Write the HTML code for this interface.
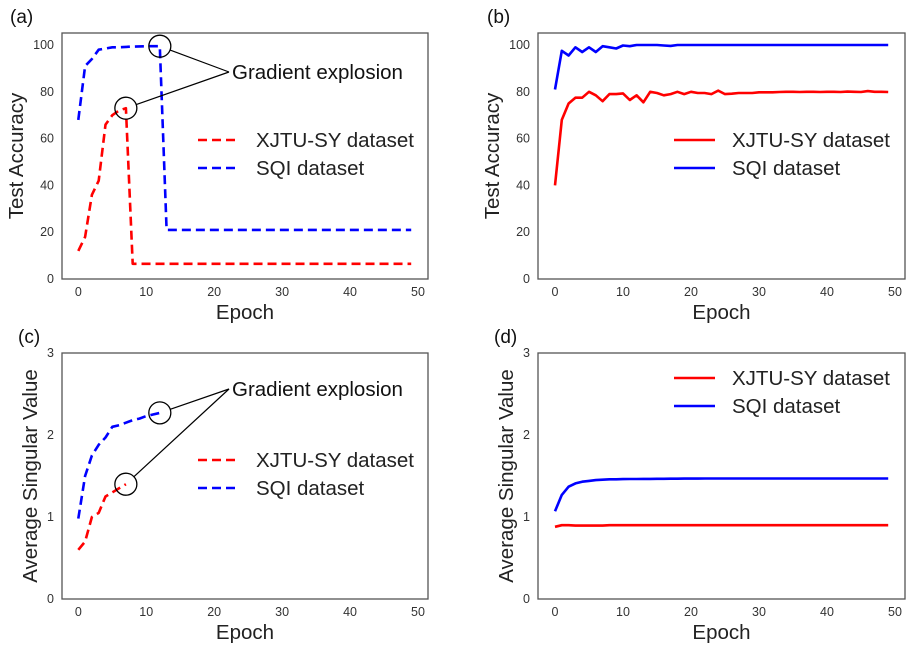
<!DOCTYPE html>
<html><head><meta charset="utf-8"><style>
html,body{margin:0;padding:0;background:#fff;}
svg{display:block;font-family:"Liberation Sans",Arial,sans-serif;}
</style></head><body>
<svg id="fig" width="918" height="648" viewBox="0 0 918 648"></svg>
<script>
const epochs=[];for(let i=0;i<50;i++)epochs.push(i);
const xTicks=[0,10,20,30,40,50];
const accTicks=[0,20,40,60,80,100];
const svTicks=[0,1,2,3];
const aRed=[12,18,36,42,66,70,72,73,6.5,6.5,6.5,6.5,6.5,6.5,6.5,6.5,6.5,6.5,6.5,6.5,6.5,6.5,6.5,6.5,6.5,6.5,6.5,6.5,6.5,6.5,6.5,6.5,6.5,6.5,6.5,6.5,6.5,6.5,6.5,6.5,6.5,6.5,6.5,6.5,6.5,6.5,6.5,6.5,6.5,6.5];
const aBlue=[68,91,94,98,98.5,99,99,99.2,99.3,99.4,99.5,99.5,99.5,21,21,21,21,21,21,21,21,21,21,21,21,21,21,21,21,21,21,21,21,21,21,21,21,21,21,21,21,21,21,21,21,21,21,21,21,21];
const bRed=[40,68,75,77.5,77.5,80,78.5,76,79,79,79.3,76.5,78.5,75.5,80,79.5,78.5,79,80,79,80,79.5,79.5,79,80.5,79,79.2,79.5,79.5,79.5,79.8,79.8,79.8,79.9,80,80,79.9,80,80,79.9,80,80,79.9,80.1,80,79.9,80.3,80,80,79.9];
const bBlue=[81,97.5,95.5,99,97,99,97,99.5,99,98.5,99.8,99.5,100,100,100,100,99.8,99.6,100,100,100,100,100,100,100,100,100,100,100,100,100,100,100,100,100,100,100,100,100,100,100,100,100,100,100,100,100,100,100,100];
const cRed=[0.6,0.7,1.0,1.05,1.25,1.3,1.35,1.4];
const cBlue=[0.98,1.5,1.75,1.88,1.97,2.1,2.12,2.15,2.18,2.2,2.23,2.25,2.27];
const dRed=[0.88,0.9,0.9,0.895,0.895,0.895,0.895,0.895,0.9,0.9,0.9,0.9,0.9,0.9,0.9,0.9,0.9,0.9,0.9,0.9,0.9,0.9,0.9,0.9,0.9,0.9,0.9,0.9,0.9,0.9,0.9,0.9,0.9,0.9,0.9,0.9,0.9,0.9,0.9,0.9,0.9,0.9,0.9,0.9,0.9,0.9,0.9,0.9,0.9,0.9];
const dBlue=[1.07,1.27,1.37,1.41,1.43,1.44,1.45,1.455,1.46,1.46,1.462,1.463,1.464,1.465,1.465,1.466,1.466,1.467,1.467,1.468,1.468,1.468,1.469,1.469,1.469,1.47,1.47,1.47,1.47,1.47,1.47,1.47,1.47,1.47,1.47,1.47,1.47,1.47,1.47,1.47,1.47,1.47,1.47,1.47,1.47,1.47,1.47,1.47,1.47,1.47];

const NS='http://www.w3.org/2000/svg';
const fig=document.getElementById('fig');
function mk(tag,attrs,parent,txt){const e=document.createElementNS(NS,tag);for(const k in attrs)e.setAttribute(k,attrs[k]);if(txt!==undefined)e.textContent=txt;(parent||fig).appendChild(e);return e;}

function panel(o){
  const g=mk('g',{});
  
  
  const x=v=>o.x0+(v-0)*(o.x50-o.x0)/50;
  const y=v=>o.bottom-(v-0)*(o.bottom-o.yTop)/o.yMax;
  const box=mk('rect',{x:o.left,y:o.top,width:o.right-o.left,height:o.bottom-o.top,fill:'none',stroke:'#555','stroke-width':1.3},g);
  
  
  xTicks.forEach(t=>{const e=mk('text',{x:x(t),y:o.bottom+17,'font-size':12.5,fill:'#333','text-anchor':'middle'},g,String(t));
    });
  o.yTicks.forEach(t=>{const e=mk('text',{x:o.left-8,y:y(t)+4,'font-size':12.5,fill:'#333','text-anchor':'end'},g,String(t));
    });
  const xl=mk('text',{x:(o.left+o.right)/2,y:o.bottom+40,'font-size':20.5,fill:'#222','text-anchor':'middle'},g,'Epoch');
  
  const yl=mk('text',{x:0,y:0,'font-size':20.5,fill:'#222','text-anchor':'middle',transform:`translate(${o.ylx},${(o.top+o.bottom)/2}) rotate(-90)`},g,o.ylabel);
  
  const pl=mk('text',{x:o.labX,y:o.top-10,'font-size':19,fill:'#111'},g,o.label);
  
  const dash=o.dashed?'9,5':'none';
  [[o.red,'#ff0000','xjtu-sy-line'],[o.blue,'#0000ff','sqi-line']].forEach(([d,c,n])=>{
    const pts=d.map((v,i)=>x(epochs[i]).toFixed(1)+','+y(v).toFixed(1)).join(' ');
    const p=mk('polyline',{points:pts,fill:'none',stroke:c,'stroke-width':2.6,'stroke-dasharray':dash,'stroke-linejoin':'round'},g);
    
  });
  [['XJTU-SY dataset','#ff0000',o.legY],['SQI dataset','#0000ff',o.legY+28]].forEach(([t,c,ly],i)=>{
    const lg=mk('g',{},g);
    
    
    mk('line',{x1:o.legX,y1:ly,x2:o.legX+41,y2:ly,stroke:c,'stroke-width':2.6,'stroke-dasharray':dash},lg);
    mk('text',{x:o.legX+58,y:ly+7,'font-size':20.5,fill:'#222'},lg,t);
  });
  if(o.annot){
    const ag=mk('g',{},g);
    
    
    const tx=o.annot.tx,ty=o.annot.ty;
    o.annot.pts.forEach(([ei,v])=>{
      const cx=x(ei),cy=y(v),r=11;
      mk('circle',{cx:cx,cy:cy,r:r,fill:'none',stroke:'#000','stroke-width':1.3},ag);
      const dx=tx-cx,dy=ty-cy,L=Math.hypot(dx,dy);
      mk('line',{x1:cx+dx/L*r,y1:cy+dy/L*r,x2:tx,y2:ty,stroke:'#000','stroke-width':1.2},ag);
    });
    mk('text',{x:tx+3,y:ty+7,'font-size':20.5,fill:'#111'},ag,'Gradient explosion');
  }
}
panel({name:'panel-a',label:'(a)',labX:10,left:62,right:428,top:33,bottom:279,x0:78.3,x50:418,yTop:45,yMax:100,yTicks:accTicks,ylabel:'Test Accuracy',ylx:23,red:aRed,blue:aBlue,dashed:true,legX:198,legY:140,annot:{tx:229,ty:72,pts:[[12,99.5],[7,73]]}});
panel({name:'panel-b',label:'(b)',labX:487,left:538,right:905,top:33,bottom:279,x0:555,x50:895,yTop:45,yMax:100,yTicks:accTicks,ylabel:'Test Accuracy',ylx:499,red:bRed,blue:bBlue,dashed:false,legX:674,legY:140});
panel({name:'panel-c',label:'(c)',labX:18,left:62,right:428,top:353,bottom:599,x0:78.3,x50:418,yTop:353,yMax:3,yTicks:svTicks,ylabel:'Average Singular Value',ylx:37,red:cRed,blue:cBlue,dashed:true,legX:198,legY:460,annot:{tx:229,ty:389,pts:[[12,2.27],[7,1.4]]}});
panel({name:'panel-d',label:'(d)',labX:494,left:538,right:905,top:353,bottom:599,x0:555,x50:895,yTop:353,yMax:3,yTicks:svTicks,ylabel:'Average Singular Value',ylx:513,red:dRed,blue:dBlue,dashed:false,legX:674,legY:378});
</script>
</body></html>
